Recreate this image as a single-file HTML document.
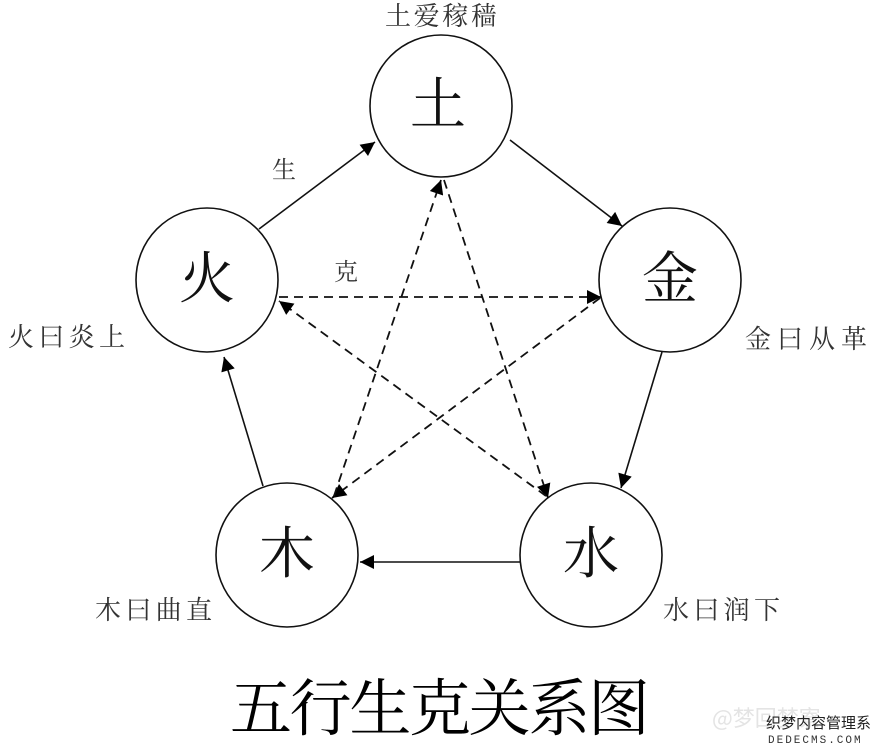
<!DOCTYPE html>
<html><head><meta charset="utf-8"><style>
html,body{margin:0;padding:0;background:#fff;}
svg{display:block;}
text{font-family:"Liberation Serif","Noto Serif CJK SC","Noto Sans CJK SC",serif;fill:#111;}
text.g{fill:#333;}
text.t{fill:#000;}
text.wm{fill:#e4e4e4;font-family:"Noto Sans CJK SC",sans-serif;}
text.wd{fill:#222;font-family:"Noto Sans CJK SC",sans-serif;}
text.wc{fill:#333;font-family:"Liberation Mono",monospace;}
</style></head><body>
<svg width="871" height="748" viewBox="0 0 871 748" xmlns="http://www.w3.org/2000/svg">
<defs>
<marker id="b" viewBox="0 0 10 10" refX="10" refY="5" markerWidth="18" markerHeight="14" markerUnits="userSpaceOnUse" orient="auto">
<path d="M0,0 L10,5 L0,10 z" fill="#000"/></marker>
</defs>
<g fill="none" stroke="#111" stroke-width="1.6">
<ellipse cx="441" cy="106" rx="71" ry="71"/>
<ellipse cx="207" cy="280" rx="71" ry="72"/>
<ellipse cx="670" cy="280" rx="71" ry="72"/>
<ellipse cx="287" cy="555" rx="71" ry="72"/>
<ellipse cx="591" cy="555" rx="71" ry="72"/>
</g>
<g stroke="#111" stroke-width="1.6" fill="none" marker-end="url(#b)">
<line x1="259" y1="229" x2="375" y2="142"/>
<line x1="510" y1="140" x2="622" y2="226"/>
<line x1="662" y1="352" x2="621" y2="488"/>
<line x1="520" y1="562" x2="360" y2="562"/>
<line x1="263" y1="486" x2="224" y2="357"/>
</g>
<g stroke="#111" stroke-width="1.8" fill="none" stroke-dasharray="9,6" marker-end="url(#b)">
<line x1="279" y1="297" x2="601" y2="297"/>
<line x1="600" y1="298" x2="332" y2="498"/>
<line x1="334" y1="496" x2="441" y2="180"/>
<line x1="444" y1="180" x2="548" y2="498"/>
<line x1="546" y1="496" x2="279" y2="301"/>
</g>
<g font-size="56" text-anchor="middle">
<text x="438" y="124">土</text>
<text x="207" y="298">火</text>
<text x="670" y="298">金</text>
<text x="287" y="573">木</text>
<text x="591" y="573">水</text>
</g>
<g font-size="26">
<text class="g" x="441" y="25" text-anchor="middle" textLength="112">土爱稼穑</text>
<text class="g" x="8" y="346" textLength="117">火曰炎上</text>
<text class="g" x="745" y="348" textLength="122">金曰从革</text>
<text class="g" x="95" y="619" textLength="117">木曰曲直</text>
<text class="g" x="663" y="619" textLength="117">水曰润下</text>
<text class="g" x="272" y="178" font-size="24">生</text>
<text class="g" x="334" y="280" font-size="24">克</text>
</g>
<text class="t" x="440" y="730" font-size="62" text-anchor="middle" textLength="420">五行生克关系图</text>
<text class="wm" x="712" y="726" font-size="22">@梦回梦寮</text>
<text class="wd" x="766" y="728" font-size="15">织梦内容管理系统</text>
<text class="wc" x="768" y="743" font-size="11" letter-spacing="2">DEDECMS.COM</text>
</svg>
</body></html>
